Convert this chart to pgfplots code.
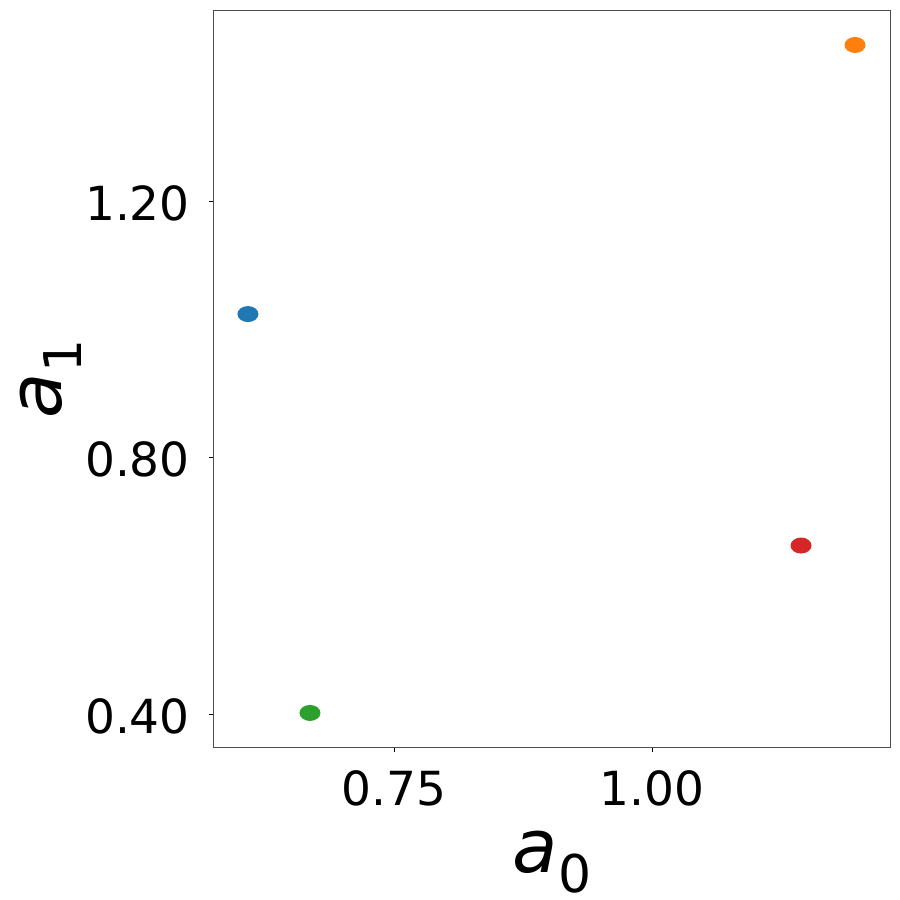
\documentclass[border=0pt]{standalone}
\usepackage{fontspec}
\setmainfont{DejaVu Sans}
\usepackage{pgfplots}
\pgfplotsset{compat=1.18}
\definecolor{tabblue}{HTML}{1F77B4}
\definecolor{taborange}{HTML}{FF7F0E}
\definecolor{tabgreen}{HTML}{2CA02C}
\definecolor{tabred}{HTML}{D62728}
\pgfdeclareplotmark{ellip}{%
  \pgfpathellipse{\pgfpointorigin}{\pgfqpoint{10.5pt}{0pt}}{\pgfqpoint{0pt}{8pt}}%
  \pgfusepathqfill}
\begin{document}
\begin{tikzpicture}
\path[use as bounding box] (-214pt,-153pt) rectangle (686pt,747pt);
\begin{axis}[
  at={(0,0)}, anchor=south west,
  scale only axis, width=676pt, height=736pt,
  xmin=0.5756, xmax=1.2306, ymin=0.3485, ymax=1.4964,
  xtick={0.75,1.00}, ytick={0.4,0.8,1.2},
  tick align=outside, xtick pos=bottom, ytick pos=left,
  major tick length=5pt,
  tick style={black, line width=0.8pt},
  axis line style={black!70, line width=1pt},
  ticklabel style={font=\fontsize{47}{56}\selectfont, inner sep=0pt},
  xticklabel style={anchor=north, yshift=-18pt},
  yticklabel style={anchor=east, xshift=-19pt, yshift=-2pt},
  /pgf/number format/.cd, fixed, fixed zerofill, precision=2, assume math mode=true,
  /pgfplots/.cd,
  xlabel={\fontsize{74}{80}\selectfont\textit{a}\raisebox{-20pt}{\fontsize{52}{56}\selectfont 0}},
  ylabel={\fontsize{74}{80}\selectfont\textit{a}\raisebox{-20pt}{\fontsize{52}{56}\selectfont 1}},
  xlabel style={at={(axis description cs:0.5,0)}, anchor=base, yshift=-125pt, inner sep=0pt},
  ylabel style={at={(axis description cs:0,0.5)}, anchor=base, yshift=152pt, inner sep=0pt},
]
\addplot[only marks, mark=ellip, color=tabblue] coordinates {(0.6085,1.0237)};
\addplot[only marks, mark=ellip, color=taborange] coordinates {(1.1967,1.4434)};
\addplot[only marks, mark=ellip, color=tabgreen] coordinates {(0.6686,0.4016)};
\addplot[only marks, mark=ellip, color=tabred] coordinates {(1.1444,0.6627)};
\end{axis}
\end{tikzpicture}
\end{document}
